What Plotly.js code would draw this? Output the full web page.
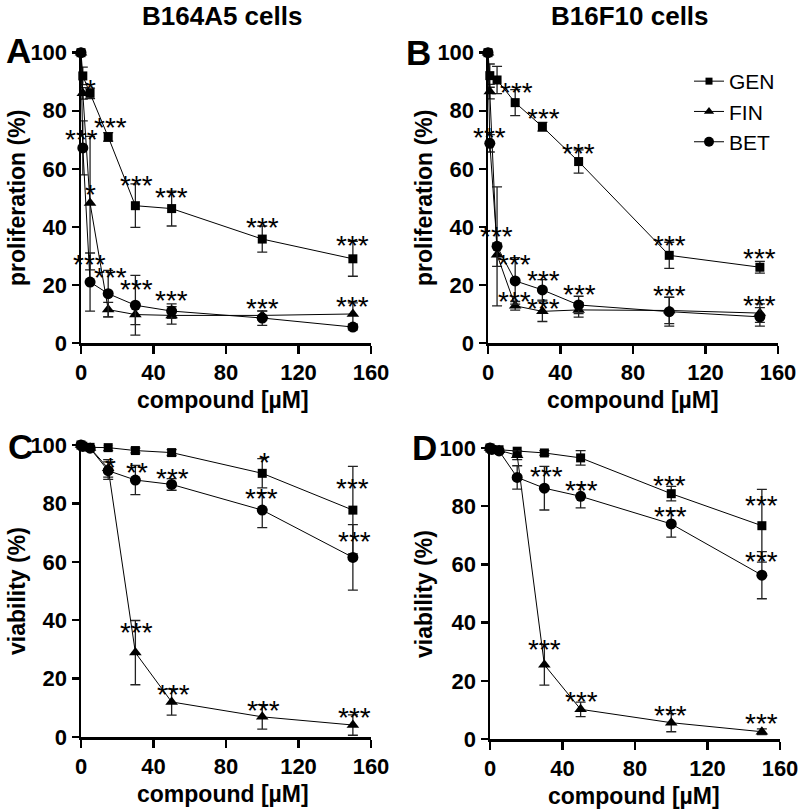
<!DOCTYPE html>
<html>
<head>
<meta charset="utf-8">
<script src="https://cdn.plot.ly/plotly-3.0.1.min.js"></script>
<style>html,body{margin:0;padding:0;background:#fff;}#chart{width:800px;height:810px;}</style>
</head>
<body>
<div id="chart"></div>
<script>
// ---- data ----
const dose = [0, 1, 5, 15, 30, 50, 100, 150];
const xTicks = [0, 40, 80, 120, 160];
const yTicks = [0, 20, 40, 60, 80, 100];
const seriesNames = ['GEN', 'FIN', 'BET'];

// A: proliferation, B164A5
const genA = [100, 92, 86, 71, 47.3, 46.3, 35.8, 29.0];
const genAErr = [0, 3, 1.8, 1.5, 7.5, 6, 4.5, 6];
const finA = [100, 86, 48.2, 11.5, 9.8, 9.5, 9.5, 10];
const finAErr = [0, 2, 23, 2.5, 3.5, 3, 1.5, 3.8];
const betA = [100, 67.2, 21, 17, 13, 11, 8.6, 5.5];
const betAErr = [0, 9.3, 10, 8, 10.3, 2.5, 2.5, 1];

// B: proliferation, B16F10
const genB = [100, 92.1, 90.6, 82.8, 74.5, 62.5, 30.2, 26.1];
const genBErr = [0, 4, 4.7, 4.5, 1.5, 4, 4.5, 2];
const finB = [100, 86.6, 30.4, 12.8, 10.9, 11.4, 11.2, 10.3];
const finBErr = [0, 2.5, 4, 1.5, 3.5, 2.5, 4.5, 3.2];
const betB = [100, 68.8, 33.3, 21.4, 18.3, 13.1, 10.8, 9.0];
const betBErr = [0, 3, 20.5, 8, 3.5, 3, 5, 3.2];

// C: viability, B164A5
const genC = [100, 99.6, 99.2, 99.1, 98.1, 97.4, 90.3, 77.7];
const genCErr = [0, 0.5, 0.5, 1, 0.8, 1, 5, 15];
const finC = [100, 99.5, 99.0, 92, 28.9, 12, 6.9, 4.1];
const finCErr = [0, 0.5, 0.5, 3, 11, 4.5, 4.2, 3.5];
const betC = [100, 99.5, 98.9, 91.2, 88, 86.5, 77.7, 61.5];
const betCErr = [0, 0.5, 0.8, 3, 5, 2, 6, 11.2];

// D: viability, B16F10
const genD = [100, 99.5, 99.4, 98.9, 98.3, 96.6, 84.3, 73.3];
const genDErr = [0, 0.5, 0.5, 1.5, 0.8, 2.5, 2.5, 12.5];
const finD = [100, 99.5, 99.2, 97.5, 25.5, 10.2, 5.6, 2.5];
const finDErr = [0, 0.5, 0.5, 1.5, 7, 2.5, 3.1, 1];
const betD = [100, 99.5, 99, 89.9, 86.2, 83.4, 73.9, 56.3];
const betDErr = [0, 0.5, 0.5, 4, 7.5, 4, 4.5, 8.1];

// significance labels (data coordinates)
const starsAX = [5.5, 16, 0.4, 30.7, 50, 5, 100, 150, 4.8, 16, 30.7, 50, 100, 150];
const starsAY = [89.5, 76.2, 72.2, 56.2, 52.2, 53.3, 41.9, 35.8, 29.2, 24.7, 20.6, 16.6, 13.8, 14.7];
const starsAT = ['*', '***', '***', '***', '***', '*', '***', '***', '***', '***', '***', '***', '***', '***'];
const starsBX = [15.7, 30.4, 50, 0.55, 4.6, 14.7, 30.4, 50.5, 14.7, 30.4, 100, 150, 100, 150];
const starsBY = [88.3, 79.4, 67.4, 72.8, 38.9, 29, 23.5, 18.9, 16.3, 13.8, 35.8, 31.2, 18.6, 15.1];
const starsBT = ['***', '***', '***', '***', '***', '***', '***', '***', '***', '***', '***', '***', '***', '***'];
const starsCX = [16, 30.7, 50.6, 101, 99.7, 150, 150.8, 30.7, 51, 100.6, 150.8];
const starsCY = [94.3, 92.6, 90.5, 96, 83.7, 87.1, 69.1, 37.7, 16.6, 11.2, 8.6];
const starsCT = ['*', '**', '***', '*', '***', '***', '***', '***', '***', '***', '***'];
const starsDX = [30.9, 50.6, 99.3, 150, 99.7, 150, 29.8, 50.6, 99.7, 150];
const starsDY = [92.3, 87.4, 89.3, 82.2, 78.6, 63, 32.7, 15.1, 10, 7.3];
const starsDT = ['***', '***', '***', '***', '***', '***', '***', '***', '***', '***'];

// ---- helpers ----
const FONT = 'Liberation Sans, Arial, Helvetica, sans-serif';
const symbols = {GEN: 'square', FIN: 'triangle-up', BET: 'circle'};
const msize = {GEN: 9, FIN: 11, BET: 11};

function tr(name, y, err, xa, ya) {
  return {
    type: 'scatter', mode: 'lines+markers', x: dose, y: y, name: name,
    xaxis: xa, yaxis: ya, showlegend: false, cliponaxis: false,
    line: {color: 'black', width: 1},
    marker: {symbol: symbols[name], size: msize[name], color: 'black'},
    error_y: {type: 'data', array: err, visible: true, color: '#222', thickness: 1.3, width: 5}
  };
}

const data = [
  tr('GEN', genA, genAErr, 'x', 'y'), tr('FIN', finA, finAErr, 'x', 'y'), tr('BET', betA, betAErr, 'x', 'y'),
  tr('GEN', genB, genBErr, 'x2', 'y2'), tr('FIN', finB, finBErr, 'x2', 'y2'), tr('BET', betB, betBErr, 'x2', 'y2'),
  tr('GEN', genC, genCErr, 'x3', 'y3'), tr('FIN', finC, finCErr, 'x3', 'y3'), tr('BET', betC, betCErr, 'x3', 'y3'),
  tr('GEN', genD, genDErr, 'x4', 'y4'), tr('FIN', finD, finDErr, 'x4', 'y4'), tr('BET', betD, betDErr, 'x4', 'y4')
];
// legend-only entries
const legSize = {GEN: 7, FIN: 9, BET: 10};
seriesNames.forEach(n => data.push({
  type: 'scatter', mode: 'lines+markers', x: [null], y: [null], name: n,
  xaxis: 'x2', yaxis: 'y2', showlegend: true,
  line: {color: 'black', width: 1},
  marker: {symbol: symbols[n], size: legSize[n], color: 'black'}
}));

function xax(dom, anchor) {
  return {
    domain: dom, anchor: anchor, range: [0, 160], tickvals: xTicks, ticktext: xTicks.map(String),
    showline: true, linewidth: 2.5, linecolor: 'black', ticks: 'outside', ticklen: 8,
    tickwidth: 2.5, tickcolor: 'black', showgrid: false, zeroline: false, fixedrange: true,
    tickfont: {family: FONT, size: 22, weight: 'bold', color: 'black'}
  };
}
function yax(dom, anchor) {
  return {
    domain: dom, anchor: anchor, range: [0, 100], tickvals: yTicks, ticktext: yTicks.map(String),
    showline: true, linewidth: 2.5, linecolor: 'black', ticks: 'outside', ticklen: 7,
    tickwidth: 2.5, tickcolor: 'black', showgrid: false, zeroline: false, fixedrange: true,
    ticklabelstandoff: 0,
    tickfont: {family: FONT, size: 22, weight: 'bold', color: 'black'}
  };
}
const W = 800, H = 810;
const px = v => v / W, py = v => 1 - v / H;

const annotations = [];
function stars(xs, ys, ts, xa, ya) {
  xs.forEach((x, i) => annotations.push({
    x: x, y: ys[i], text: ts[i], xref: xa, yref: ya, showarrow: false,
    xanchor: 'center', yanchor: 'middle', yshift: -6,
    font: {family: FONT, size: 28, color: 'black'}
  }));
}
stars(starsAX, starsAY, starsAT, 'x', 'y');
stars(starsBX, starsBY, starsBT, 'x2', 'y2');
stars(starsCX, starsCY, starsCT, 'x3', 'y3');
stars(starsDX, starsDY, starsDT, 'x4', 'y4');

function ptext(text, x, y, size, angle) {
  annotations.push({
    text: text, x: px(x), y: py(y), xref: 'paper', yref: 'paper', showarrow: false,
    xanchor: 'center', yanchor: 'middle', textangle: angle || 0,
    font: {family: FONT, size: size, weight: 'bold', color: 'black'}
  });
}
ptext('B164A5 cells', 222, 16, 26);
ptext('B16F10 cells', 630, 16, 26);
ptext('A', 18, 50, 35);
ptext('B', 418, 52, 35);
ptext('C', 20, 446, 35);
ptext('D', 424, 448, 35);
ptext('proliferation (%)', 17, 198, 23, -90);
ptext('proliferation (%)', 424, 198, 23, -90);
ptext('viability (%)', 17, 591, 23, -90);
ptext('viability (%)', 424, 594, 23, -90);
ptext('compound [µM]', 223, 400, 23);
ptext('compound [µM]', 633, 400, 23);
ptext('compound [µM]', 223, 794, 23);
ptext('compound [µM]', 634, 796, 23);

const layout = {
  width: W, height: H, margin: {l: 0, r: 0, t: 0, b: 0},
  paper_bgcolor: 'white', plot_bgcolor: 'white', showlegend: true,
  xaxis: xax([px(81), px(371)], 'y'),
  yaxis: yax([py(343), py(52.7)], 'x'),
  xaxis2: xax([px(488), px(778)], 'y2'),
  yaxis2: yax([py(343), py(52.7)], 'x2'),
  xaxis3: xax([px(81), px(371)], 'y3'),
  yaxis3: yax([py(737), py(445)], 'x3'),
  xaxis4: xax([px(490), px(780)], 'y4'),
  yaxis4: yax([py(739), py(448)], 'x4'),
  legend: {
    x: px(689), y: py(61), xanchor: 'left', yanchor: 'top', bgcolor: 'rgba(0,0,0,0)',
    font: {family: FONT, size: 21, color: 'black'}, tracegroupgap: 0
  },
  annotations: annotations
};
Plotly.newPlot('chart', data, layout, {displayModeBar: false, staticPlot: true});
</script>
</body>
</html>
